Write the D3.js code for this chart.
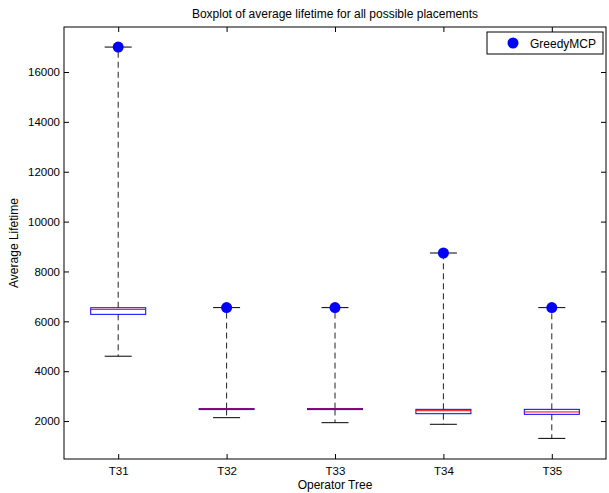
<!DOCTYPE html>
<meta charset="utf-8">
<style>
    body { margin: 0; background: #fff; }
    text { font-family: "Liberation Sans", Arial, sans-serif; fill: #000; }
    .whisker { stroke: #222; stroke-width: 1px; stroke-dasharray: 6,4; fill: none; }
    .cap { stroke: #000; stroke-width: 1px; }
    .box { fill: none; stroke: #0000ff; stroke-width: 1px; }
    .median { stroke: #ff0000; stroke-width: 1px; }
</style>
<svg width="609" height="493"></svg>
<script src="https://d3js.org/d3.v7.min.js"></script>
<script>

    // data
    var categories = ["T31", "T32", "T33", "T34", "T35"];
    var lowerWhisker = [4600, 2135, 1935, 1870, 1305];
    var q1 = [6280, 2465, 2465, 2295, 2270];
    var median = [6480, 2483, 2483, 2415, 2365];
    var q3 = [6545, 2500, 2500, 2470, 2470];
    var upperWhisker = [17000, 6550, 6550, 8740, 6550];
    var greedyMCP = [17000, 6550, 6550, 8740, 6550];
    var yTicks = [2000, 4000, 6000, 8000, 10000, 12000, 14000, 16000];

    var svg = d3.select("svg"),
        margin = {top: 27, right: 3, bottom: 34, left: 64},
        width = svg.attr("width") - margin.left - margin.right,
        height = svg.attr("height") - margin.top - margin.bottom,
        g = svg.append("g").attr("transform", "translate(" + margin.left + "," + margin.top + ")");

    var x = d3.scalePoint().domain(categories).range([0, width]).padding(0.5),
        y = d3.scaleLinear().domain([478, 17805]).range([height, 0]);

    var tickLen = 5;

    // frame
    g.append("rect")
        .attr("width", width)
        .attr("height", height)
        .attr("fill", "none")
        .attr("stroke", "#000");

    // axes with inward ticks
    g.append("g")
        .attr("transform", "translate(0," + height + ")")
        .call(d3.axisBottom(x).tickSizeInner(-tickLen).tickSizeOuter(0).tickPadding(8));
    g.append("g")
        .call(d3.axisTop(x).tickSizeInner(-tickLen).tickSizeOuter(0).tickFormat(""));
    g.append("g")
        .call(d3.axisLeft(y).tickValues(yTicks).tickFormat(d3.format("d"))
            .tickSizeInner(-tickLen).tickSizeOuter(0).tickPadding(4));
    g.append("g")
        .attr("transform", "translate(" + width + ",0)")
        .call(d3.axisRight(y).tickValues(yTicks).tickSizeInner(-tickLen).tickSizeOuter(0).tickFormat(""));

    g.selectAll(".domain").remove();
    g.selectAll(".tick line").attr("stroke", "#000");
    g.selectAll(".tick text").style("font-size", "11.5px").attr("fill", "#000");

    var rows = categories.map(function (c, i) {
        return {cat: c, lo: lowerWhisker[i], q1: q1[i], med: median[i], q3: q3[i], hi: upperWhisker[i], greedy: greedyMCP[i]};
    });

    var boxW = 55, capW = 27;

    var box = g.selectAll(".boxplot")
        .data(rows)
        .enter().append("g")
        .attr("class", "boxplot")
        .attr("transform", function (d) { return "translate(" + x(d.cat) + ",0)"; });

    box.append("line").attr("class", "whisker")
        .attr("x1", 0).attr("x2", 0)
        .attr("y1", function (d) { return y(d.q3); })
        .attr("y2", function (d) { return y(d.hi); });
    box.append("line").attr("class", "whisker")
        .attr("x1", 0).attr("x2", 0)
        .attr("y1", function (d) { return y(d.q1); })
        .attr("y2", function (d) { return y(d.lo); });

    box.append("line").attr("class", "cap")
        .attr("x1", -capW / 2).attr("x2", capW / 2)
        .attr("y1", function (d) { return y(d.hi); })
        .attr("y2", function (d) { return y(d.hi); });
    box.append("line").attr("class", "cap")
        .attr("x1", -capW / 2).attr("x2", capW / 2)
        .attr("y1", function (d) { return y(d.lo); })
        .attr("y2", function (d) { return y(d.lo); });

    box.append("rect").attr("class", "box")
        .attr("x", -boxW / 2)
        .attr("width", boxW)
        .attr("y", function (d) { return y(d.q3); })
        .attr("height", function (d) { return Math.max(1, y(d.q1) - y(d.q3)); });

    box.append("line").attr("class", "median")
        .attr("x1", -boxW / 2).attr("x2", boxW / 2)
        .attr("y1", function (d) { return y(d.med); })
        .attr("y2", function (d) { return y(d.med); });

    box.append("circle")
        .attr("cx", 0)
        .attr("cy", function (d) { return y(d.greedy); })
        .attr("r", 5.5)
        .attr("fill", "#0000ff");

    // legend
    var legend = g.append("g").attr("transform", "translate(" + (width - 119) + ",5)");
    legend.append("rect")
        .attr("width", 116).attr("height", 22)
        .attr("fill", "#fff").attr("stroke", "#000");
    legend.append("circle")
        .attr("cx", 26).attr("cy", 11).attr("r", 5.5)
        .attr("fill", "#0000ff");
    legend.append("text")
        .attr("x", 43).attr("y", 15.5)
        .style("font-size", "12px")
        .text("GreedyMCP");

    // titles
    svg.append("text")
        .attr("x", margin.left + width / 2)
        .attr("y", 18)
        .attr("text-anchor", "middle")
        .style("font-size", "12px")
        .text("Boxplot of average lifetime for all possible placements");

    svg.append("text")
        .attr("x", margin.left + width / 2)
        .attr("y", 489)
        .attr("text-anchor", "middle")
        .style("font-size", "12px")
        .text("Operator Tree");

    svg.append("text")
        .attr("transform", "translate(18," + (margin.top + height / 2) + ") rotate(-90)")
        .attr("text-anchor", "middle")
        .style("font-size", "12px")
        .text("Average Lifetime");

</script>
